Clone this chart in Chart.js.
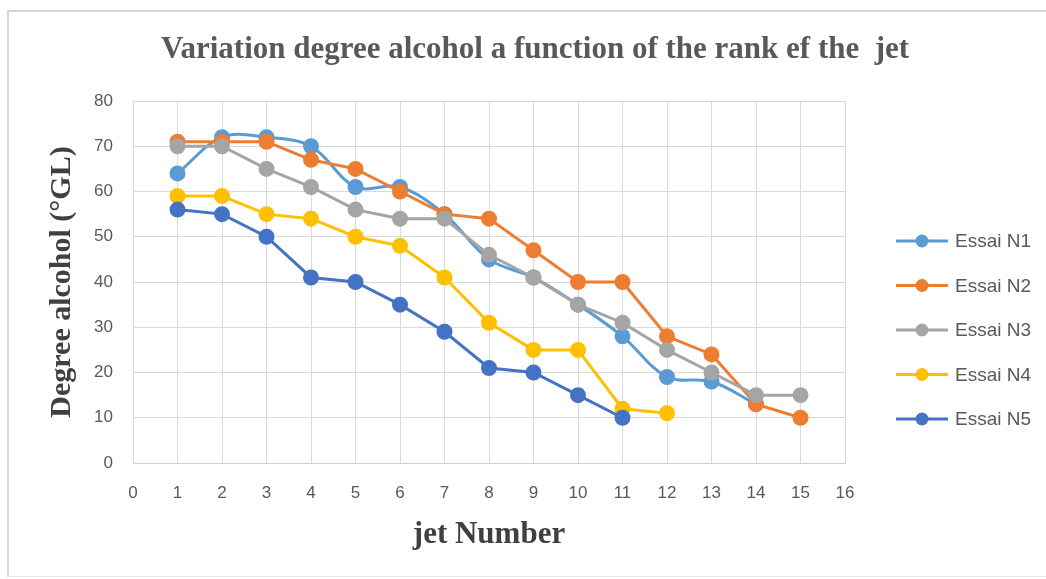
<!DOCTYPE html>
<html>
<head>
<meta charset="utf-8">
<script src="https://cdn.jsdelivr.net/npm/chart.js@4.4.1/dist/chart.umd.min.js"></script>
<style>
  html, body { margin: 0; padding: 0; background: #fff; }
  #wrap { position: relative; width: 1046px; height: 579px; }
  #frame { position: absolute; left: 7px; top: 10px; right: 0; bottom: 2px;
           border-top: 2px solid #d6d6d6; border-left: 2px solid #d6d6d6; border-bottom: 1px solid #e8e8e8; }
  canvas { position: absolute; left: 0; top: 0; }
</style>
</head>
<body>
<div id="wrap">
  <div id="frame"></div>
  <canvas id="chart" width="1046" height="579"></canvas>
</div>
<script>
// Degré alcoolique selon le rang du jet

const jets = [1, 2, 3, 4, 5, 6, 7, 8, 9, 10, 11, 12, 13, 14, 15];
const essaiN1 = [64, 72, 72, 70, 61, 61, 55, 45, 41, 35, 28, 19, 18, 13];
const essaiN2 = [71, 71, 71, 67, 65, 60, 55, 54, 47, 40, 40, 28, 24, 13, 10];
const essaiN3 = [70, 70, 65, 61, 56, 54, 54, 46, 41, 35, 31, 25, 20, 15, 15];
const essaiN4 = [59, 59, 55, 54, 50, 48, 41, 31, 25, 25, 12, 11];
const essaiN5 = [56, 55, 50, 41, 40, 35, 29, 21, 20, 15, 10];
const nomsSeries = ['Essai N1', 'Essai N2', 'Essai N3', 'Essai N4', 'Essai N5'];
const couleurs = ['#5B9BD5', '#ED7D31', '#A5A5A5', '#FFC000', '#4472C4'];
const xTicks = [0, 16];
const yTicks = [0, 80];
const titre = 'Variation degree alcohol a function of the rank ef the  jet';

const serif = "'Liberation Serif', 'DejaVu Serif', serif";
const sans = "'Liberation Sans', 'Open Sans', sans-serif";

const series = [essaiN1, essaiN2, essaiN3, essaiN4, essaiN5];

const datasets = series.map((vals, i) => ({
  label: nomsSeries[i],
  data: vals.map((v, k) => ({ x: jets[k], y: v })),
  borderColor: couleurs[i],
  backgroundColor: couleurs[i],
  pointBackgroundColor: couleurs[i],
  pointBorderColor: couleurs[i],
  borderWidth: 3,
  pointRadius: 6.5,
  tension: i === 0 ? 0.35 : 0,
  order: series.length - i   // Excel: dernière série au-dessus
}));

// Titre centré sur tout le cadre (pas seulement sur la zone du graphe)
// + légende à droite : trait + marqueur, comme dans Excel
const decorExcel = {
  id: 'decorExcel',
  afterDraw(chart) {
    const ctx = chart.ctx;
    const area = chart.chartArea;
    ctx.save();

    ctx.fillStyle = '#595959';
    ctx.font = "bold 31px " + serif;
    ctx.textAlign = 'center';
    ctx.textBaseline = 'middle';
    ctx.fillText(titre, chart.width / 2 + 12, area.top - 51);

    const x0 = area.right + 51;
    const y0 = area.top + 140;
    ctx.textAlign = 'left';
    nomsSeries.forEach((nom, i) => {
      const y = y0 + i * 44.5;
      ctx.strokeStyle = couleurs[i];
      ctx.fillStyle = couleurs[i];
      ctx.lineWidth = 3;
      ctx.beginPath();
      ctx.moveTo(x0, y);
      ctx.lineTo(x0 + 52, y);
      ctx.stroke();
      ctx.beginPath();
      ctx.arc(x0 + 26, y, 6.5, 0, Math.PI * 2);
      ctx.fill();
      ctx.fillStyle = '#595959';
      ctx.font = "19px " + sans;
      ctx.fillText(nom, x0 + 59, y + 1);
    });
    ctx.restore();
  }
};

new Chart(document.getElementById('chart'), {
  type: 'line',
  data: { datasets },
  plugins: [decorExcel],
  options: {
    responsive: false,
    animation: false,
    layout: { padding: { left: 36, right: 201, top: 101, bottom: 20 } },
    plugins: {
      legend: { display: false },
      tooltip: { enabled: false },
      title: { display: false }
    },
    scales: {
      x: {
        type: 'linear',
        min: xTicks[0],
        max: xTicks[1],
        afterFit: s => { s.height = 96; },
        ticks: { stepSize: 1, color: '#595959', padding: 20, font: { family: sans, size: 17 } },
        grid: { color: '#d9d9d9', drawTicks: false },
        border: { color: '#d0d0d0' },
        title: {
          display: true,
          text: 'jet Number',
          color: '#404040',
          font: { family: serif, size: 31, weight: 'bold' },
          padding: { top: 0, bottom: 5 }
        }
      },
      y: {
        min: yTicks[0],
        max: yTicks[1],
        afterFit: s => { s.width = 97; },
        ticks: { stepSize: 10, color: '#595959', padding: 20, font: { family: sans, size: 17 } },
        grid: { color: '#d9d9d9', drawTicks: false },
        border: { display: false },
        title: {
          display: true,
          text: 'Degree alcohol (°GL)',
          color: '#404040',
          font: { family: serif, size: 30, weight: 'bold' },
          padding: { top: 8, bottom: 0 }
        }
      }
    }
  }
});
</script>
</body>
</html>
